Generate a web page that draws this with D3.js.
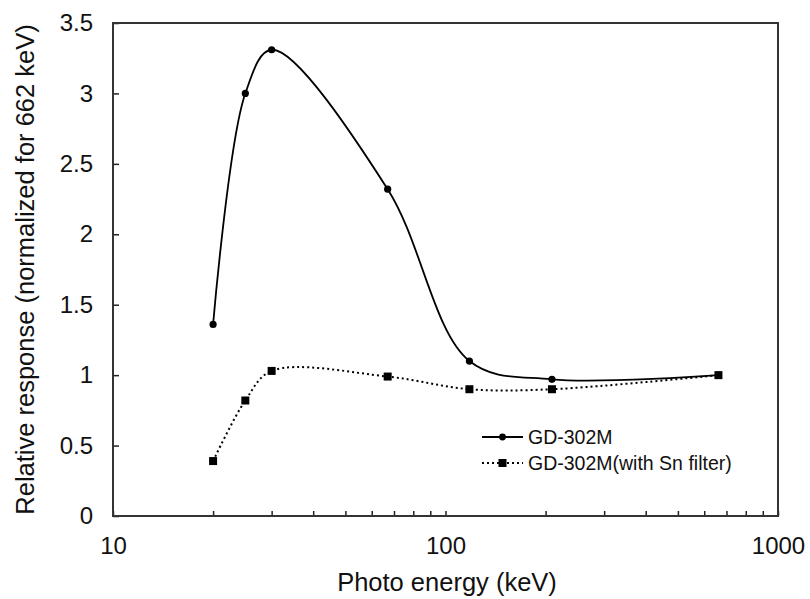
<!DOCTYPE html>
<html>
<head>
<meta charset="utf-8">
<script src="https://cdn.jsdelivr.net/npm/d3@7"></script>
<style>
  body { margin: 0; background: #fff; }
  svg { font-family: "Liberation Sans", Arial, sans-serif; }
</style>
</head>
<body>
<div id="chart"></div>
<script>
// energies (keV) and relative responses
const energy = [20, 25, 30, 67, 118, 209, 662];
const respPlain = [1.36, 3.00, 3.31, 2.32, 1.10, 0.97, 1.00];
const respSn = [0.39, 0.82, 1.03, 0.99, 0.90, 0.90, 1.00];

const yTicks = [0, 0.5, 1, 1.5, 2, 2.5, 3, 3.5];
const xMajor = [10, 100, 1000];
const xMinor = [20, 30, 40, 50, 60, 70, 80, 90, 200, 300, 400, 500, 600, 700, 800, 900];

const seriesNames = ['GD-302M', 'GD-302M(with Sn filter)'];

const W = 810, H = 599;
const margin = { top: 23, right: 32, bottom: 83, left: 113 };
const iw = W - margin.left - margin.right;
const ih = H - margin.top - margin.bottom;

const svg = d3.select('#chart').append('svg')
  .attr('width', W).attr('height', H);

const g = svg.append('g')
  .attr('transform', 'translate(' + margin.left + ',' + margin.top + ')');

const x = d3.scaleLog().domain([10, 1000]).range([0, iw]);
const y = d3.scaleLinear().domain([0, 3.5]).range([ih, 0]);

// x axis: major + minor ticks, pointing inward
const xAxis = d3.axisBottom(x)
  .tickValues(xMajor.concat(xMinor))
  .tickSizeInner(-5).tickSizeOuter(0).tickPadding(21)
  .tickFormat(d => xMajor.includes(d) ? String(d) : '');
g.append('g').attr('class', 'xaxis')
  .attr('transform', 'translate(0,' + ih + ')')
  .call(xAxis);

const yAxis = d3.axisLeft(y)
  .tickValues(yTicks)
  .tickSizeInner(-6).tickSizeOuter(0).tickPadding(20)
  .tickFormat(d => String(d));
g.append('g').attr('class', 'yaxis').call(yAxis);

g.selectAll('.domain').remove();
g.selectAll('.tick line').attr('stroke', '#222').attr('stroke-width', 1.5);
g.selectAll('.tick text').attr('font-size', 24).attr('fill', '#111')
  .attr('font-family', '"Liberation Sans", Arial, sans-serif');

// frame
g.append('rect')
  .attr('x', 0).attr('y', 0).attr('width', iw).attr('height', ih)
  .attr('fill', 'none').attr('stroke', '#333').attr('stroke-width', 2);

const line = d3.line()
  .x(d => x(d[0])).y(d => y(d[1]))
  .curve(d3.curveCatmullRom.alpha(0.5));

const plainPts = energy.map((e, i) => [e, respPlain[i]]);
const snPts = energy.map((e, i) => [e, respSn[i]]);

g.append('path').datum(plainPts)
  .attr('d', line).attr('fill', 'none')
  .attr('stroke', '#000').attr('stroke-width', 1.8);

g.append('path').datum(snPts)
  .attr('d', line).attr('fill', 'none')
  .attr('stroke', '#000').attr('stroke-width', 2)
  .attr('stroke-dasharray', '2,3');

g.selectAll('circle.pt').data(plainPts).enter().append('circle')
  .attr('class', 'pt')
  .attr('cx', d => x(d[0])).attr('cy', d => y(d[1]))
  .attr('r', 3.6).attr('fill', '#000');

g.selectAll('rect.pt').data(snPts).enter().append('rect')
  .attr('class', 'pt')
  .attr('x', d => x(d[0]) - 4).attr('y', d => y(d[1]) - 4)
  .attr('width', 8).attr('height', 8).attr('fill', '#000');

// legend
const lg = g.append('g').attr('transform', 'translate(' + (482 - margin.left) + ',' + (437 - margin.top) + ')');
lg.append('line').attr('x1', 0).attr('x2', 41).attr('y1', 0).attr('y2', 0)
  .attr('stroke', '#000').attr('stroke-width', 1.8);
lg.append('circle').attr('cx', 20.5).attr('cy', 0).attr('r', 3.4).attr('fill', '#000');
lg.append('text').attr('x', 46).attr('y', 0).attr('dy', '0.35em')
  .attr('font-size', 19.5).attr('fill', '#111').text(seriesNames[0]);

lg.append('line').attr('x1', 0).attr('x2', 41).attr('y1', 26).attr('y2', 26)
  .attr('stroke', '#000').attr('stroke-width', 2).attr('stroke-dasharray', '2,3');
lg.append('rect').attr('x', 16.5).attr('y', 22).attr('width', 8).attr('height', 8).attr('fill', '#000');
lg.append('text').attr('x', 46).attr('y', 26).attr('dy', '0.35em')
  .attr('font-size', 19.5).attr('fill', '#111').text(seriesNames[1]);

// axis titles
svg.append('text')
  .attr('x', 447).attr('y', 591)
  .attr('text-anchor', 'middle').attr('font-size', 25.5).attr('fill', '#111')
  .text('Photo energy (keV)');

svg.append('text')
  .attr('transform', 'translate(34,' + (margin.top + ih / 2) + ') rotate(-90)')
  .attr('text-anchor', 'middle').attr('font-size', 25.5).attr('fill', '#111')
  .text('Relative response (normalized for 662 keV)');
</script>
</body>
</html>
